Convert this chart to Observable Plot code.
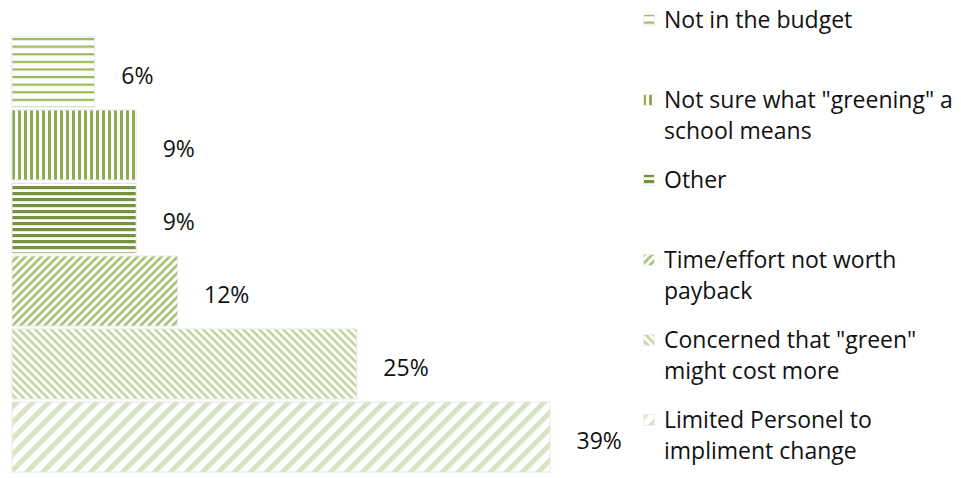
<!DOCTYPE html>
<html><head><meta charset="utf-8">
<script src="https://cdn.jsdelivr.net/npm/d3@7"></script>
<script src="https://cdn.jsdelivr.net/npm/@observablehq/plot@0.6"></script>
<style>
body{margin:0;background:#fff;}
#wrap{position:relative;width:961px;height:478px;font-family:"Open Sans",sans-serif;overflow:hidden;}
#legend{position:absolute;left:643px;top:4px;}
.item{height:80px;display:flex;align-items:flex-start;}
.item svg{flex:none;margin-top:10px;margin-right:9px;}
.item span{font-size:23px;line-height:31px;white-space:pre;color:#111;}
</style></head><body><div id="wrap"><div id="chart"></div><div id="legend"></div></div>
<script>
const categories = [
  "Not in the budget",
  "Not sure what \"greening\" a\nschool means",
  "Other",
  "Time/effort not worth\npayback",
  "Concerned that \"green\"\nmight cost more",
  "Limited Personel to\nimpliment change"
];
const values = [6, 9, 9, 12, 25, 39];
const patternIds = ["p-budget", "p-notsure", "p-other", "p-time", "p-cost", "p-personnel"];

const data = categories.map((c, i) => ({category: c, value: values[i]}));

const plot = Plot.plot({
  width: 640, height: 478,
  marginLeft: 12, marginRight: 90, marginTop: 34, marginBottom: 2,
  x: {domain: [0, 39], axis: null},
  y: {domain: categories, axis: null, padding: 0.04},
  color: {domain: categories, range: patternIds.map(id => `url(#${id})`)},
  style: {fontFamily: "Open Sans", fontSize: "23px", color: "#111", background: "#fff"},
  marks: [
    Plot.barX(data, {x: "value", y: "category", fill: "category", stroke: "#e8e8e8", strokeWidth: 1}),
    Plot.text(data, {x: "value", y: "category", text: d => d.value + "%", textAnchor: "start", dx: 26, dy: 4, fontSize: 23, fill: "#111"})
  ]
});

const defs = d3.select(plot).insert("defs", ":first-child");
function hStripes(id, period, thick, color, vertical) {
  const p = defs.append("pattern").attr("id", id).attr("patternUnits", "userSpaceOnUse")
    .attr("width", vertical ? period : 10).attr("height", vertical ? 10 : period);
  p.append("rect").attr("width", 20).attr("height", 20).attr("fill", "#fff");
  if (vertical) p.append("rect").attr("x", 0).attr("width", thick).attr("height", 10).attr("fill", color);
  else p.append("rect").attr("y", 0).attr("width", 10).attr("height", thick).attr("fill", color);
}
function dStripes(id, period, thick, color, angle) {
  const p = defs.append("pattern").attr("id", id).attr("patternUnits", "userSpaceOnUse")
    .attr("width", period).attr("height", period).attr("patternTransform", `rotate(${angle})`);
  p.append("rect").attr("width", period).attr("height", period).attr("fill", "#fff");
  p.append("rect").attr("width", thick).attr("height", period).attr("fill", color);
}
hStripes("p-budget", 7.6, 2.2, "#9bbb59", false);
hStripes("p-notsure", 6, 3, "#8dac4f", true);
hStripes("p-other", 6, 3.2, "#76923c", false);
dStripes("p-time", 5.66, 2.8, "#a9c57c", 45);
dStripes("p-cost", 5.66, 2.6, "#c3d69b", -45);
dStripes("p-personnel", 11.3, 5, "#d7e4bd", 45);

document.getElementById("chart").appendChild(plot);

const legend = d3.select("#legend");
categories.forEach((c, i) => {
  const item = legend.append("div").attr("class", "item");
  const s = item.append("svg").attr("width", 12).attr("height", 12);
  s.append("rect").attr("x", 0.5).attr("y", 0.5).attr("width", 11).attr("height", 11)
    .attr("fill", `url(#${patternIds[i]})`).attr("stroke", "#eee");
  item.append("span").text(c);
});
</script></body></html>
